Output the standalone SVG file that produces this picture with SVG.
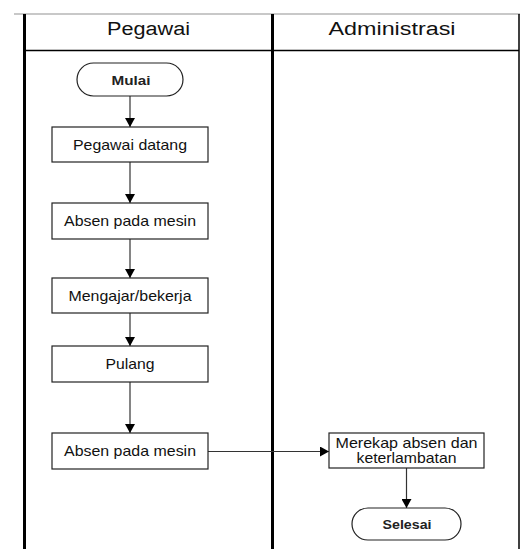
<svg xmlns="http://www.w3.org/2000/svg" width="520" height="549" viewBox="0 0 520 549">
  <style>
    .lane { stroke: #000; fill: none; }
    .box { fill: #fff; stroke: #222; stroke-width: 1.2; }
    .txt { font-family: "Liberation Sans", Arial, sans-serif; font-size: 14.5px; fill: #111; text-anchor: middle; }
    .term { font-family: "Liberation Sans", Arial, sans-serif; font-size: 13.5px; font-weight: bold; fill: #222; text-anchor: middle; }
    .head { font-family: "Liberation Sans", Arial, sans-serif; font-size: 18px; fill: #111; text-anchor: middle; }
    .conn { stroke: #333; stroke-width: 1.2; fill: none; marker-end: url(#arrow); }
  </style>
  <defs>
    <marker id="arrow" markerUnits="userSpaceOnUse" markerWidth="10" markerHeight="10" refX="9" refY="5" orient="auto">
      <path d="M0,0 L9,5 L0,10 Z" fill="#000"/>
    </marker>
  </defs>

  <rect width="520" height="549" fill="#fff"/>

  <!-- swimlane frame -->
  <g id="swimlanes">
    <line x1="14" y1="14" x2="520" y2="14" stroke="#c8c8c8" stroke-width="2"/>
    <line class="lane" x1="24.5" y1="14" x2="24.5" y2="549" stroke-width="3"/>
    <line class="lane" x1="272.5" y1="14" x2="272.5" y2="549" stroke-width="3"/>
    <line class="lane" x1="519" y1="14" x2="519" y2="549" stroke-width="1.5"/>
    <line class="lane" x1="24" y1="50.5" x2="519" y2="50.5" stroke-width="1.5"/>
    <text class="head" x="148.5" y="35" textLength="83" lengthAdjust="spacingAndGlyphs">Pegawai</text>
    <text class="head" x="392" y="35" textLength="127" lengthAdjust="spacingAndGlyphs">Administrasi</text>
  </g>

  <!-- connectors -->
  <g id="connectors">
    <line class="conn" x1="130" y1="96" x2="130" y2="127"/>
    <line class="conn" x1="130" y1="162" x2="130" y2="203"/>
    <line class="conn" x1="130" y1="239" x2="130" y2="278"/>
    <line class="conn" x1="130" y1="313" x2="130" y2="346"/>
    <line class="conn" x1="130" y1="382" x2="130" y2="433"/>
    <line class="conn" x1="208" y1="451.5" x2="329" y2="451.5"/>
    <line class="conn" x1="406.5" y1="468" x2="406.5" y2="508"/>
  </g>

  <!-- nodes -->
  <g id="mulai">
    <rect class="box" x="77" y="63" width="106" height="33" rx="16.5" ry="16.5"/>
    <text class="term" x="131" y="84.5" textLength="39" lengthAdjust="spacingAndGlyphs">Mulai</text>
  </g>
  <g id="pegawai-datang">
    <rect class="box" x="52" y="127" width="156" height="35"/>
    <text class="txt" x="130" y="149.5" textLength="114" lengthAdjust="spacingAndGlyphs">Pegawai datang</text>
  </g>
  <g id="absen-masuk">
    <rect class="box" x="52" y="203" width="156" height="36"/>
    <text class="txt" x="130" y="226" textLength="132" lengthAdjust="spacingAndGlyphs">Absen pada mesin</text>
  </g>
  <g id="mengajar">
    <rect class="box" x="52" y="278" width="156" height="35"/>
    <text class="txt" x="130" y="300.5" textLength="123" lengthAdjust="spacingAndGlyphs">Mengajar/bekerja</text>
  </g>
  <g id="pulang">
    <rect class="box" x="52" y="346" width="156" height="36"/>
    <text class="txt" x="130" y="369" textLength="49" lengthAdjust="spacingAndGlyphs">Pulang</text>
  </g>
  <g id="absen-pulang">
    <rect class="box" x="52" y="433" width="156" height="36"/>
    <text class="txt" x="130" y="456" textLength="132" lengthAdjust="spacingAndGlyphs">Absen pada mesin</text>
  </g>
  <g id="merekap">
    <rect class="box" x="329" y="433" width="155" height="35"/>
    <text class="txt" x="406.5" y="448" textLength="142" lengthAdjust="spacingAndGlyphs">Merekap absen dan</text>
    <text class="txt" x="406.5" y="463" textLength="100" lengthAdjust="spacingAndGlyphs">keterlambatan</text>
  </g>
  <g id="selesai">
    <rect class="box" x="352" y="508" width="109" height="32" rx="16" ry="16"/>
    <text class="term" x="407" y="529" textLength="49" lengthAdjust="spacingAndGlyphs">Selesai</text>
  </g>
</svg>
